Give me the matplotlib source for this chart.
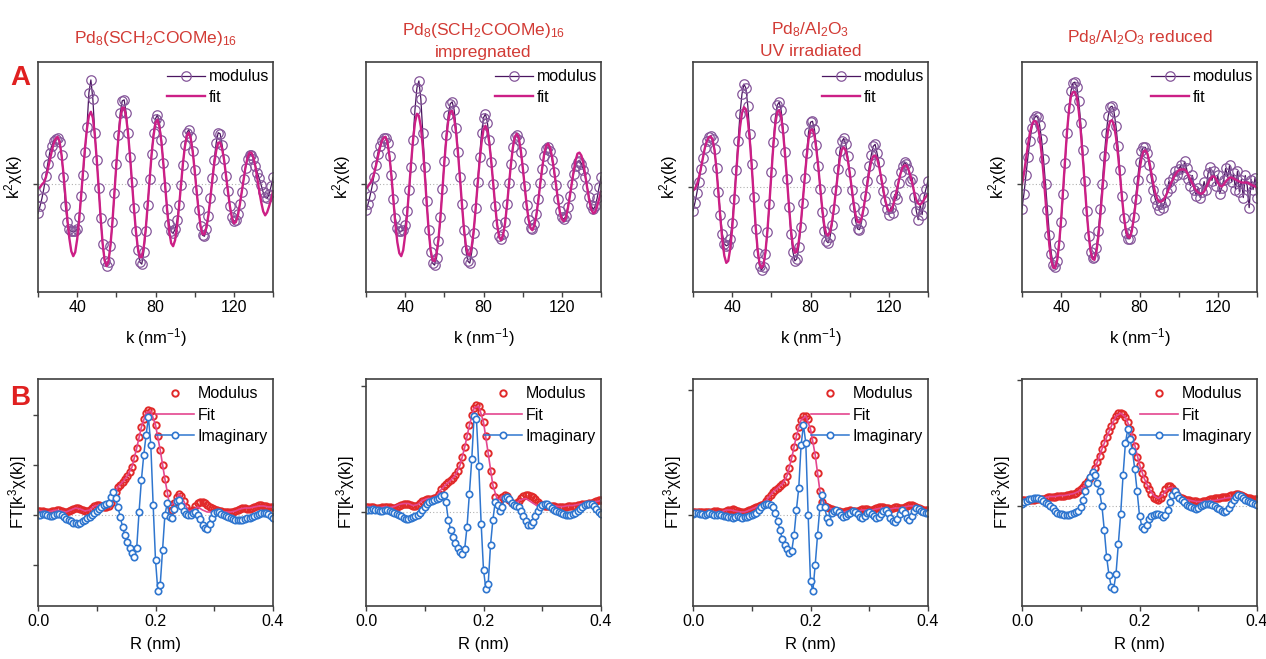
import numpy as np
import matplotlib
matplotlib.use("Agg")
import matplotlib.pyplot as plt
from matplotlib.ticker import MultipleLocator, FormatStrFormatter

plt.rcParams["font.family"] = ["Liberation Sans", "DejaVu Sans"]
plt.rcParams["mathtext.fontset"] = "custom"
plt.rcParams["mathtext.rm"] = "Liberation Sans"
plt.rcParams["mathtext.it"] = "Liberation Sans:italic"
plt.rcParams["mathtext.bf"] = "Liberation Sans:bold"

# sample titles (one or two lines each)
titles = [
    ["Pd$_8$(SCH$_2$COOMe)$_{16}$"],
    ["Pd$_8$(SCH$_2$COOMe)$_{16}$", "impregnated"],
    ["Pd$_8$/Al$_2$O$_3$", "UV irradiated"],
    ["Pd$_8$/Al$_2$O$_3$ reduced"],
]

# k grid of the EXAFS oscillations, nm^-1 (20 ... 140)
k_vals = np.arange(20, 141)

# k^2 chi(k), arbitrary units: measured (mod) and fitted (fit)
chi_mod_1 = [
    -29, -22, -14, -4, 9, 21, 32, 39, 44, 46,
    47, 43, 30, 8, -22, -38, -45, -47, -47, -47,
    -45, -33, -12, 10, 33, 58, 92, 105, 86, 52,
    25, -4, -34, -60, -77, -82, -78, -62, -38, -9,
    21, 50, 72, 84, 85, 72, 52, 28, 2, -24,
    -47, -66, -78, -80, -68, -47, -21, 5, 31, 52,
    66, 70, 62, 45, 22, -3, -25, -40, -47, -49,
    -45, -36, -21, -1, 20, 40, 52, 55, 48, 34,
    15, -6, -26, -42, -51, -52, -45, -32, -14, 6,
    25, 42, 52, 51, 40, 26, 9, -7, -22, -33,
    -37, -36, -30, -20, -8, 5, 17, 26, 30, 30,
    26, 19, 12, 6, -1, -8, -13, -14, -10, -2,
    7]
chi_fit_1 = [
    -4, -3, 0, 2, 7, 15, 24, 33, 41, 46,
    48, 43, 30, 11, -12, -35, -54, -67, -72, -68,
    -55, -36, -12, 13, 37, 56, 69, 73, 67, 50,
    25, -4, -34, -59, -76, -82, -77, -61, -38, -9,
    20, 46, 66, 77, 77, 68, 51, 28, 2, -24,
    -47, -64, -73, -73, -63, -45, -21, 5, 30, 49,
    62, 65, 58, 43, 21, -3, -27, -47, -59, -62,
    -56, -42, -23, -1, 21, 38, 49, 52, 46, 33,
    14, -7, -26, -42, -50, -50, -43, -31, -14, 4,
    21, 34, 42, 42, 36, 25, 9, -7, -22, -33,
    -39, -38, -32, -21, -8, 5, 18, 27, 32, 32,
    27, 18, 6, -7, -18, -27, -31, -28, -22, -15,
    -7]

chi_mod_2 = [
    -26, -20, -12, -3, 8, 20, 31, 39, 44, 47,
    47, 42, 29, 10, -15, -34, -44, -47, -47, -46,
    -41, -27, -6, 18, 45, 75, 97, 104, 86, 52,
    18, -17, -46, -68, -79, -81, -74, -57, -33, -5,
    24, 50, 70, 81, 83, 75, 57, 33, 7, -20,
    -46, -66, -77, -79, -68, -49, -24, 2, 28, 52,
    67, 71, 62, 45, 23, 0, -22, -40, -52, -55,
    -50, -38, -20, 1, 21, 38, 48, 50, 45, 33,
    17, -2, -21, -36, -44, -45, -40, -30, -15, 1,
    16, 29, 36, 38, 34, 25, 13, -1, -15, -27,
    -33, -35, -32, -23, -12, 0, 11, 19, 23, 24,
    21, 15, 7, -3, -13, -21, -25, -22, -14, -3,
    8]
chi_fit_2 = [
    -4, -2, 1, 4, 10, 18, 27, 36, 43, 47,
    48, 42, 28, 8, -16, -40, -58, -69, -72, -66,
    -51, -30, -5, 21, 44, 62, 71, 69, 58, 38,
    11, -19, -46, -66, -76, -77, -70, -55, -33, -6,
    22, 46, 64, 73, 74, 67, 52, 31, 6, -20,
    -44, -61, -70, -71, -62, -46, -24, 0, 23, 42,
    55, 59, 54, 41, 22, 0, -22, -41, -53, -56,
    -51, -39, -21, 0, 20, 37, 48, 51, 47, 35,
    18, -1, -20, -35, -44, -46, -41, -31, -16, 1,
    17, 31, 39, 41, 37, 28, 15, 0, -15, -28,
    -35, -37, -34, -25, -13, 0, 13, 24, 31, 32,
    29, 21, 9, -4, -16, -25, -29, -28, -22, -15,
    -7]

chi_mod_3 = [
    -24, -16, -6, 5, 17, 28, 38, 45, 49, 50,
    47, 37, 18, -5, -28, -47, -57, -59, -58, -52,
    -36, -12, 16, 45, 72, 92, 102, 98, 80, 52,
    22, -10, -42, -66, -79, -83, -80, -67, -45, -17,
    14, 44, 68, 81, 84, 76, 58, 34, 8, -20,
    -47, -65, -74, -72, -60, -40, -16, 9, 33, 54,
    64, 65, 57, 41, 20, -2, -25, -44, -54, -56,
    -50, -38, -22, -3, 17, 35, 45, 48, 42, 30,
    14, -3, -20, -34, -42, -43, -36, -24, -9, 6,
    20, 31, 40, 42, 33, 24, 8, -4, -14, -22,
    -28, -21, -26, -8, -12, 4, 14, 20, 24, 22,
    17, 6, 8, -10, -24, -33, -18, -28, -10, -2,
    6]
chi_fit_3 = [
    -4, -2, 2, 9, 18, 28, 38, 45, 49, 50,
    47, 36, 17, -7, -32, -54, -69, -76, -74, -62,
    -42, -16, 12, 38, 59, 73, 79, 77, 66, 46,
    20, -10, -40, -63, -77, -81, -78, -65, -44, -17,
    12, 40, 62, 74, 76, 70, 54, 32, 7, -19,
    -43, -59, -66, -65, -55, -38, -16, 7, 29, 47,
    56, 57, 51, 37, 19, -2, -22, -38, -47, -49,
    -45, -35, -21, -4, 13, 28, 37, 39, 36, 27,
    14, -1, -16, -28, -35, -36, -32, -23, -11, 2,
    15, 25, 30, 31, 28, 20, 10, -1, -12, -20,
    -24, -24, -20, -13, -4, 5, 13, 19, 21, 21,
    17, 11, 3, -6, -13, -17, -18, -16, -13, -10,
    -8]

chi_mod_4 = [
    -25, -10, 8, 26, 42, 55, 64, 67, 66, 58,
    44, 24, 0, -26, -51, -70, -81, -83, -77, -61,
    -38, -10, 20, 50, 75, 92, 100, 101, 96, 82,
    60, 33, 3, -27, -52, -68, -74, -73, -64, -47,
    -25, 0, 27, 50, 67, 76, 77, 71, 57, 37,
    13, -12, -34, -49, -55, -55, -47, -33, -15, 4,
    21, 32, 36, 36, 30, 18, 6, -6, -15, -21,
    -26, -20, -24, -18, -8, 2, -4, 6, 12, 8,
    14, 18, 9, 22, 15, 5, -2, 8, -6, -12,
    -4, -14, -8, 2, -6, 10, 16, 3, 12, -2,
    8, -10, -4, 4, 15, 6, 18, 2, 10, -6,
    12, -8, 4, -14, 8, -2, -24, 4, -6, 6,
    -14]
chi_fit_4 = [
    -1, 10, 24, 38, 50, 58, 62, 62, 58, 47,
    30, 9, -16, -41, -62, -77, -84, -84, -76, -59,
    -35, -6, 24, 52, 73, 87, 91, 91, 86, 72,
    52, 27, 0, -27, -50, -67, -75, -76, -68, -53,
    -32, -8, 16, 38, 54, 62, 63, 58, 46, 29,
    9, -13, -32, -46, -53, -54, -48, -36, -20, -3,
    13, 25, 32, 33, 30, 22, 11, 0, -9, -15,
    -18, -18, -17, -14, -10, -5, 0, 4, 8, 11,
    13, 14, 14, 14, 12, 8, 4, 0, -4, -7,
    -9, -10, -10, -8, -4, 0, 4, 7, 7, 5,
    1, -2, -3, -1, 2, 4, 6, 6, 5, 4,
    3, 2, 1, 1, 1, 1, 0, -1, -2, -3,
    -4]

# R grids, nm: data every 0.004, fit every 0.008
r_vals = np.arange(101) * 0.004
r_fit_vals = np.arange(51) * 0.008

# FT[k^3 chi(k)], arbitrary units: modulus, imaginary part, fitted modulus
ft_mod_1 = [
    4, 4, 4, 3, 3, 3, 4, 4, 5, 5,
    4, 3, 3, 4, 5, 6, 7, 7, 6, 5,
    4, 4, 5, 7, 9, 10, 10, 9, 8, 8,
    9, 12, 17, 23, 28, 30, 33, 36, 39, 43,
    48, 57, 67, 78, 88, 96, 102, 105, 104, 99,
    90, 79, 65, 50, 36, 22, 10, 5, 12, 18,
    21, 19, 14, 8, 4, 3, 5, 9, 12, 13,
    13, 12, 10, 8, 7, 6, 5, 4, 4, 3,
    3, 3, 3, 3, 4, 5, 6, 7, 7, 6,
    6, 7, 8, 9, 10, 10, 9, 9, 8, 8,
    8]
ft_im_1 = [
    0, 0, 1, 1, 0, -1, -1, 0, 1, 1,
    0, -2, -4, -5, -6, -8, -8, -9, -8, -6,
    -5, -3, -2, 0, 2, 4, 6, 8, 10, 11,
    12, 18, 23, 17, 8, -2, -12, -20, -27, -33,
    -38, -42, -33, 3, 35, 60, 80, 98, 70, 10,
    -45, -76, -70, -35, 0, 12, -2, -3, 6, 14,
    15, 9, 4, 1, 0, 0, 2, 3, 0, -4,
    -10, -13, -14, -9, -3, 2, 3, 3, 1, 0,
    -1, -2, -3, -4, -5, -5, -5, -5, -4, -3,
    -3, -2, -1, 0, 1, 2, 2, 2, 1, -1,
    -3]
ft_fit_1 = [
    4, 4, 3, 4, 5, 4, 3, 5, 7, 6,
    4, 5, 9, 10, 8, 9, 17, 28, 33, 39,
    48, 67, 88, 102, 104, 90, 65, 36, 10, 12,
    21, 14, 4, 5, 8, 5, 3, 3, 4, 4,
    3, 3, 4, 6, 7, 7, 8, 9, 9, 8,
    8]

ft_mod_2 = [
    5, 5, 5, 5, 4, 4, 4, 5, 5, 5,
    5, 4, 4, 5, 6, 7, 8, 8, 8, 7,
    6, 6, 7, 9, 11, 12, 13, 13, 13, 14,
    15, 18, 22, 25, 27, 29, 31, 33, 36, 40,
    46, 54, 64, 75, 86, 96, 103, 106, 105, 99,
    89, 75, 58, 40, 26, 15, 11, 12, 15, 17,
    16, 12, 9, 8, 9, 11, 14, 16, 17, 17,
    16, 15, 13, 10, 8, 7, 6, 6, 6, 6,
    6, 5, 5, 5, 5, 5, 6, 6, 6, 6,
    7, 7, 8, 8, 8, 9, 9, 10, 11, 12,
    12]
ft_im_2 = [
    2, 2, 2, 3, 2, 2, 1, 1, 2, 2,
    1, 0, -1, -2, -3, -4, -6, -7, -7, -6,
    -5, -4, -3, -1, 2, 5, 8, 10, 11, 12,
    13, 14, 16, 17, 10, -8, -18, -25, -31, -36,
    -40, -42, -37, -15, 18, 52, 95, 92, 45, -12,
    -58, -77, -72, -33, -8, 10, 7, 1, 5, 14,
    15, 13, 9, 7, 6, 5, 1, -4, -9, -13,
    -13, -10, -4, 1, 5, 7, 8, 8, 6, 4,
    2, 1, 0, -1, -2, -3, -3, -3, -2, -1,
    1, 3, 5, 7, 8, 8, 8, 6, 3, 0,
    -2]
ft_fit_2 = [
    5, 5, 4, 4, 5, 4, 5, 7, 8, 8,
    6, 7, 11, 13, 13, 15, 22, 27, 31, 36,
    46, 64, 86, 103, 105, 89, 58, 26, 11, 15,
    16, 9, 9, 12, 13, 10, 7, 5, 5, 5,
    6, 5, 5, 6, 6, 7, 8, 8, 9, 10,
    11]

ft_mod_3 = [
    3, 3, 3, 3, 3, 3, 3, 3, 3, 4,
    4, 3, 3, 3, 4, 5, 5, 6, 5, 4,
    3, 3, 3, 4, 5, 6, 7, 8, 9, 10,
    11, 14, 17, 20, 23, 25, 27, 29, 31, 33,
    39, 47, 57, 68, 79, 88, 95, 99, 99, 96,
    86, 75, 60, 42, 24, 13, 9, 8, 7, 6,
    5, 4, 4, 3, 3, 4, 4, 5, 4, 4,
    4, 5, 6, 6, 6, 5, 5, 6, 7, 8,
    8, 8, 7, 7, 6, 7, 8, 8, 7, 7,
    8, 9, 10, 10, 9, 8, 7, 6, 5, 5,
    5]
ft_im_3 = [
    1, 2, 2, 1, 1, 0, 1, 2, 1, 0,
    0, 1, 0, -1, -1, -2, -2, -3, -2, -1,
    -2, -3, -2, -2, -1, 0, 1, 2, 5, 8,
    10, 11, 11, 10, 8, 2, -6, -15, -24, -30,
    -34, -38, -36, -20, 5, 27, 70, 90, 72, 0,
    -66, -76, -50, -20, 8, 20, 8, -3, -7, 2,
    4, 5, 3, 0, -2, -1, 1, 2, 4, 3,
    1, -2, -3, -1, 2, 3, 1, -1, -3, -2,
    1, 4, 5, 2, -3, -6, -7, -4, 1, 5,
    2, -3, -5, -1, 4, 7, 6, 4, 3, 2,
    2]
ft_fit_3 = [
    3, 3, 3, 3, 3, 3, 3, 5, 5, 4,
    3, 3, 5, 7, 9, 11, 17, 23, 27, 31,
    39, 57, 79, 95, 99, 86, 60, 24, 9, 7,
    5, 4, 3, 4, 5, 4, 5, 5, 5, 6,
    7, 7, 6, 7, 7, 8, 9, 9, 7, 5,
    5]

ft_mod_4 = [
    6, 6, 6, 6, 6, 6, 7, 7, 7, 7,
    8, 9, 9, 9, 9, 10, 10, 10, 10, 11,
    11, 12, 12, 13, 14, 16, 18, 21, 24, 27,
    32, 37, 43, 49, 56, 62, 68, 74, 79, 85,
    89, 92, 92, 91, 88, 83, 76, 68, 59, 48,
    40, 32, 26, 20, 16, 12, 8, 7, 6, 8,
    12, 16, 19, 19, 17, 14, 11, 9, 8, 7,
    6, 6, 5, 5, 5, 4, 4, 5, 5, 6,
    7, 7, 8, 8, 8, 9, 9, 9, 10, 11,
    11, 12, 12, 11, 10, 9, 8, 8, 7, 7,
    7]
ft_im_4 = [
    2, 4, 5, 7, 7, 8, 8, 8, 7, 5,
    3, 2, 0, -2, -5, -7, -8, -8, -9, -9,
    -9, -8, -7, -6, -5, -1, 6, 14, 22, 28,
    33, 30, 22, 14, 0, -24, -51, -69, -81, -83,
    -68, -38, -8, 30, 62, 76, 66, 54, 36, 14,
    -10, -21, -23, -19, -13, -10, -9, -8, -8, -9,
    -11, -9, -4, 4, 11, 14, 11, 8, 6, 4,
    1, 0, -1, -2, -3, -2, 0, 1, 2, 2,
    2, 1, 0, -2, -3, -5, -6, -5, -2, 2,
    6, 9, 11, 10, 8, 6, 5, 4, 3, 2,
    1]
ft_fit_4 = [
    6, 6, 6, 7, 7, 8, 9, 9, 10, 10,
    11, 12, 14, 18, 24, 32, 43, 56, 68, 79,
    89, 92, 88, 77, 60, 41, 27, 17, 10, 7,
    11, 17, 18, 13, 9, 6, 5, 4, 4, 4,
    5, 5, 6, 7, 8, 8, 8, 7, 5, 4,
    4]

chi_mod = [chi_mod_1, chi_mod_2, chi_mod_3, chi_mod_4]
chi_fit = [chi_fit_1, chi_fit_2, chi_fit_3, chi_fit_4]
ft_mod = [ft_mod_1, ft_mod_2, ft_mod_3, ft_mod_4]
ft_im = [ft_im_1, ft_im_2, ft_im_3, ft_im_4]
ft_fit = [ft_fit_1, ft_fit_2, ft_fit_3, ft_fit_4]

# colours
PURPLE_LINE = "#4a1560"
PURPLE_MARK = "#85569a"
MAGENTA = "#cc1f86"
RED = "#e12a2a"
PINK = "#e4468f"
BLUE = "#2f76cf"
TITLE_RED = "#d23b35"
SPINE = "#404040"

W, H = 1266, 659
lefts = [38, 366, 693, 1022]
panel_w = 235
top_row = (62, 292)
bot_row = (379, 606)
top_ylims = [(-108, 123), (-108, 123), (-105, 124), (-108, 121)]
bot_ylims = [(-91, 136), (-94, 132), (-91, 136), (-100, 126)]
bot_yticks = [[-50, 0, 50, 100], [0, 125], [0, 125], [0, 125]]


def axes_box(left, top, bottom):
    return [left / W, 1 - bottom / H, panel_w / W, (bottom - top) / H]


def style_axes(ax):
    for sp in ax.spines.values():
        sp.set_color(SPINE)
        sp.set_linewidth(1.2)
    ax.tick_params(which="both", direction="out", length=3.5, width=1,
                   color=SPINE, labelsize=11.5, pad=2)
    ax.axhline(0, color="#b0b0b0", ls=(0, (1, 2)), lw=0.8, zorder=0)


fig = plt.figure(figsize=(W / 100, H / 100), dpi=100)

for i in range(4):
    # k-space panel
    ax = fig.add_axes(axes_box(lefts[i], *top_row))
    style_axes(ax)
    ax.plot(k_vals, chi_mod[i], "-", color=PURPLE_LINE, lw=0.9, marker="o",
            ms=6.8, mfc="none", mec=PURPLE_MARK, mew=0.9, label="modulus")
    ax.plot(k_vals, chi_fit[i], "-", color=MAGENTA, lw=1.7, label="fit")
    ax.set_xlim(20, 140)
    ax.set_ylim(*top_ylims[i])
    ax.xaxis.set_major_locator(MultipleLocator(40))
    ax.xaxis.set_minor_locator(MultipleLocator(20))
    ax.set_yticks([0])
    ax.set_yticklabels([])
    ax.set_xlabel("k (nm$^{-1}$)", fontsize=12, labelpad=8)
    ax.set_ylabel("k$^2$χ(k)", fontsize=12, labelpad=4)
    ax.legend(loc="upper right", bbox_to_anchor=(1.015, 1.0), frameon=False,
              fontsize=11.5, handlelength=2.4, handletextpad=0.25,
              labelspacing=0.35, borderaxespad=0.0, borderpad=0.45)

    # R-space panel
    ax = fig.add_axes(axes_box(lefts[i], *bot_row))
    style_axes(ax)
    ax.plot(r_vals, ft_mod[i], "o", ms=4.6, mfc="none", mec=RED, mew=1.4,
            label="Modulus")
    ax.plot(r_fit_vals, ft_fit[i], "-", color=PINK, lw=1.2, label="Fit")
    ax.plot(r_vals, ft_im[i], "-", color=BLUE, lw=1.1, marker="o", ms=4.6,
            mfc="white", mec=BLUE, mew=1.2, label="Imaginary")
    ax.set_xlim(0, 0.4)
    ax.set_ylim(*bot_ylims[i])
    ax.xaxis.set_major_locator(MultipleLocator(0.2))
    ax.xaxis.set_minor_locator(MultipleLocator(0.1))
    ax.xaxis.set_major_formatter(FormatStrFormatter("%.1f"))
    ax.set_yticks(bot_yticks[i])
    ax.set_yticklabels([])
    ax.set_xlabel("R (nm)", fontsize=12, labelpad=6)
    ax.set_ylabel("FT[k$^3$χ(k)]", fontsize=12, labelpad=1)
    ax.legend(loc="upper right", bbox_to_anchor=(1.01, 1.0), frameon=False,
              fontsize=11.5, handlelength=2.4, handletextpad=0.25,
              labelspacing=0.4, borderaxespad=0.0, borderpad=0.45,
              numpoints=1)

    # sample title above each column
    cx = (lefts[i] + panel_w / 2) / W
    lines = titles[i]
    ys = [38] if len(lines) == 1 else [30, 52]
    for txt, y in zip(lines, ys):
        fig.text(cx, 1 - y / H, txt, ha="center", va="center",
                 fontsize=12.5, color=TITLE_RED)

fig.text(20 / W, 1 - 78 / H, "A", ha="center", va="center", fontsize=20,
         fontweight="bold", color="#e02020")
fig.text(20 / W, 1 - 398 / H, "B", ha="center", va="center", fontsize=20,
         fontweight="bold", color="#e02020")

fig.savefig("out.png", dpi=100)
